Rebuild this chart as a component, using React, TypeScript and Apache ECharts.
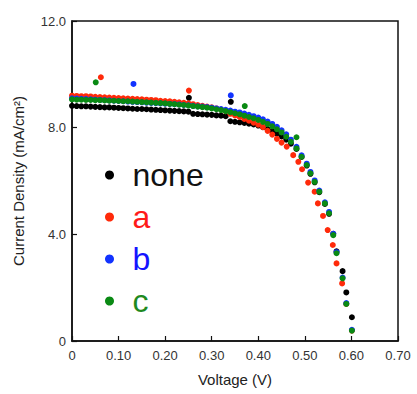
import React, { useEffect, useRef } from "react";
import * as echarts from "echarts";

// Voltage (V), current density (mA/cm²) pairs
const noneData: [number, number][] = [
  [0.0, 8.82], [0.01, 8.81], [0.02, 8.8], [0.03, 8.8], [0.04, 8.79], [0.05, 8.78], [0.06, 8.77], [0.07, 8.76],
  [0.08, 8.76], [0.09, 8.75], [0.1, 8.74], [0.11, 8.73], [0.12, 8.72], [0.13, 8.71], [0.14, 8.7], [0.15, 8.7],
  [0.16, 8.69], [0.17, 8.68], [0.18, 8.67], [0.19, 8.66], [0.2, 8.65], [0.21, 8.64], [0.22, 8.63], [0.23, 8.62],
  [0.24, 8.61], [0.25, 8.6], [0.26, 8.52], [0.27, 8.51], [0.28, 8.5], [0.29, 8.49], [0.3, 8.48], [0.31, 8.46],
  [0.32, 8.45], [0.33, 8.43], [0.34, 8.24], [0.35, 8.22], [0.36, 8.2], [0.37, 8.18], [0.38, 8.15], [0.39, 8.12],
  [0.4, 8.08], [0.41, 8.02], [0.42, 7.95], [0.43, 7.87], [0.44, 7.78], [0.45, 7.67], [0.46, 7.55], [0.47, 7.4],
  [0.482, 7.2], [0.493, 6.9], [0.504, 6.58], [0.512, 6.27], [0.521, 5.95], [0.531, 5.58], [0.543, 5.14],
  [0.552, 4.77], [0.561, 4.02], [0.568, 3.36], [0.581, 2.62], [0.589, 1.82], [0.601, 0.89],
  [0.251, 9.12], [0.341, 8.97],
];

const aData: [number, number][] = [
  [0.0, 9.2], [0.01, 9.19], [0.02, 9.18], [0.03, 9.18], [0.04, 9.17], [0.05, 9.16], [0.06, 9.15], [0.07, 9.14],
  [0.08, 9.13], [0.09, 9.12], [0.1, 9.11], [0.11, 9.1], [0.12, 9.09], [0.13, 9.08], [0.14, 9.07], [0.15, 9.06],
  [0.16, 9.05], [0.17, 9.04], [0.18, 9.03], [0.19, 9.01], [0.2, 9.0], [0.21, 8.99], [0.22, 8.97], [0.23, 8.95],
  [0.24, 8.93], [0.25, 8.91], [0.26, 8.88], [0.27, 8.85], [0.28, 8.82], [0.29, 8.79], [0.3, 8.76], [0.31, 8.72],
  [0.32, 8.68], [0.33, 8.62], [0.34, 8.52], [0.35, 8.46], [0.36, 8.4], [0.37, 8.33], [0.38, 8.26], [0.39, 8.19],
  [0.4, 8.11], [0.41, 8.02], [0.42, 7.88], [0.43, 7.74], [0.44, 7.58], [0.45, 7.44], [0.461, 7.29], [0.475, 6.97],
  [0.486, 6.72], [0.494, 6.44], [0.507, 5.94], [0.521, 5.6], [0.528, 5.16], [0.539, 4.69], [0.549, 4.16],
  [0.56, 3.6], [0.568, 2.91], [0.58, 2.16], [0.589, 1.39], [0.601, 0.39],
  [0.062, 9.89], [0.251, 9.39],
];

const bData: [number, number][] = [
  [0.0, 9.1], [0.01, 9.09], [0.02, 9.08], [0.03, 9.07], [0.04, 9.06], [0.05, 9.05], [0.06, 9.04], [0.07, 9.03],
  [0.08, 9.02], [0.09, 9.01], [0.1, 9.0], [0.11, 8.99], [0.12, 8.98], [0.13, 8.97], [0.14, 8.96], [0.15, 8.95],
  [0.16, 8.94], [0.17, 8.93], [0.18, 8.92], [0.19, 8.91], [0.2, 8.9], [0.21, 8.89], [0.22, 8.88], [0.23, 8.87],
  [0.24, 8.85], [0.25, 8.84], [0.26, 8.82], [0.27, 8.8], [0.28, 8.79], [0.29, 8.77], [0.3, 8.75], [0.31, 8.72],
  [0.32, 8.7], [0.33, 8.67], [0.34, 8.64], [0.35, 8.6], [0.36, 8.57], [0.37, 8.53], [0.38, 8.48], [0.39, 8.43],
  [0.4, 8.38], [0.41, 8.31], [0.42, 8.23], [0.43, 8.14], [0.44, 8.03], [0.45, 7.9], [0.46, 7.75], [0.47, 7.55],
  [0.482, 7.28], [0.493, 6.96], [0.504, 6.65], [0.512, 6.34], [0.521, 6.02], [0.531, 5.64], [0.543, 5.2],
  [0.552, 4.84], [0.561, 4.02], [0.568, 3.33], [0.581, 2.38], [0.589, 1.42], [0.601, 0.42],
  [0.132, 9.64], [0.341, 9.21],
];

const cData: [number, number][] = [
  [0.0, 9.06], [0.01, 9.05], [0.02, 9.05], [0.03, 9.04], [0.04, 9.04], [0.05, 9.03], [0.06, 9.03], [0.07, 9.02],
  [0.08, 9.01], [0.09, 9.01], [0.1, 9.0], [0.11, 8.99], [0.12, 8.99], [0.13, 8.98], [0.14, 8.97], [0.15, 8.96],
  [0.16, 8.95], [0.17, 8.94], [0.18, 8.93], [0.19, 8.92], [0.2, 8.91], [0.21, 8.89], [0.22, 8.88], [0.23, 8.86],
  [0.24, 8.85], [0.25, 8.83], [0.26, 8.81], [0.27, 8.79], [0.28, 8.77], [0.29, 8.75], [0.3, 8.72], [0.31, 8.69],
  [0.32, 8.66], [0.33, 8.62], [0.34, 8.58], [0.35, 8.54], [0.36, 8.5], [0.37, 8.45], [0.38, 8.4], [0.39, 8.35],
  [0.4, 8.29], [0.41, 8.22], [0.42, 8.14], [0.43, 8.05], [0.44, 7.94], [0.45, 7.82], [0.46, 7.66], [0.47, 7.47],
  [0.482, 7.22], [0.493, 6.91], [0.504, 6.6], [0.512, 6.29], [0.521, 5.97], [0.531, 5.6], [0.543, 5.16],
  [0.552, 4.79], [0.561, 3.97], [0.568, 3.29], [0.581, 2.35], [0.589, 1.39], [0.601, 0.39],
  [0.051, 9.7], [0.371, 8.81], [0.482, 7.64],
];

const seriesNames = ["none", "a", "b", "c"];
const dotColors = ["#000000", "#ff2a0a", "#1233ff", "#0a8a14"];
const textColors = ["#111111", "#ff1a1a", "#1414ff", "#1f8a1f"];

export default function App() {
  const ref = useRef<HTMLDivElement>(null);
  useEffect(() => {
    if (!ref.current) return;
    const chart = echarts.init(ref.current, undefined, { renderer: "svg" });
    const datasets = [noneData, aData, bData, cData];
    const font = "'Liberation Sans', Arial, Helvetica, sans-serif";
    chart.setOption({
      animation: false,
      textStyle: { fontFamily: font },
      grid: {
        left: 72,
        right: 19,
        top: 21,
        bottom: 53,
        show: true,
        borderColor: "#111",
        borderWidth: 1.5,
        backgroundColor: "transparent",
      },
      legend: {
        orient: "vertical",
        left: 100,
        top: 154,
        itemWidth: 36,
        itemHeight: 9,
        itemGap: 10,
        icon: "circle",
        textStyle: { fontSize: 32, fontFamily: font },
        data: seriesNames.map((n, i) => ({
          name: n,
          icon: "circle",
          itemStyle: { color: dotColors[i], opacity: 1 },
          textStyle: { color: textColors[i], fontSize: 32, fontFamily: font },
        })),
      },
      xAxis: {
        type: "value",
        min: 0,
        max: 0.7,
        interval: 0.1,
        name: "Voltage (V)",
        nameLocation: "middle",
        nameGap: 31,
        nameTextStyle: { fontSize: 15, color: "#222", fontFamily: font },
        axisLine: { show: true, lineStyle: { color: "#111", width: 1.5 } },
        axisTick: { show: true, inside: true, length: 5, lineStyle: { color: "#111", width: 1.2 } },
        axisLabel: {
          fontSize: 13,
          color: "#333",
          margin: 8,
          formatter: (v: number) => (v === 0 ? "0" : v.toFixed(2)),
        },
        splitLine: { show: false },
      },
      yAxis: {
        type: "value",
        min: 0,
        max: 12,
        interval: 4,
        name: "Current Density (mA/cm²)",
        nameLocation: "middle",
        nameGap: 46,
        nameTextStyle: { fontSize: 15, color: "#222", fontFamily: font },
        axisLine: { show: true, lineStyle: { color: "#111", width: 1.5 } },
        axisTick: { show: true, inside: true, length: 5, lineStyle: { color: "#111", width: 1.2 } },
        axisLabel: {
          fontSize: 13,
          color: "#333",
          margin: 6,
          formatter: (v: number) => (v === 0 ? "0" : v.toFixed(1)),
        },
        splitLine: { show: false },
      },
      series: seriesNames.map((n, i) => ({
        name: n,
        type: "scatter",
        data: datasets[i],
        symbol: "circle",
        symbolSize: 6,
        itemStyle: { color: dotColors[i], opacity: 1 },
        emphasis: { disabled: true },
      })),
    });
    return () => chart.dispose();
  }, []);
  return <div ref={ref} style={{ width: 417, height: 394, position: "absolute", left: 0, top: 0 }} />;
}
